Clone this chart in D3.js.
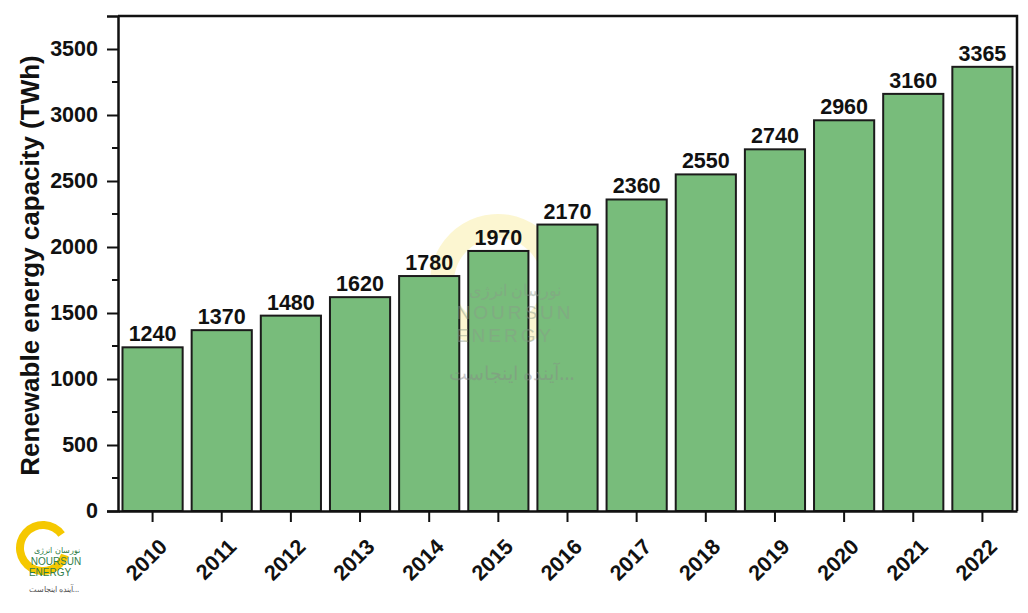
<!DOCTYPE html>
<html>
<head>
<meta charset="utf-8">
<script src="https://cdn.jsdelivr.net/npm/d3@7"></script>
<style>
  body { margin: 0; background: #fff; }
  svg { display: block; font-family: "Liberation Sans", Arial, sans-serif; }
</style>
</head>
<body>
<svg id="chart" width="1028" height="613"></svg>
<script>
// data
const years = ['2010', '2011', '2012', '2013', '2014', '2015', '2016', '2017', '2018', '2019', '2020', '2021', '2022'];
const capacity = [1240, 1370, 1480, 1620, 1780, 1970, 2170, 2360, 2550, 2740, 2960, 3160, 3365];
const yTicks = [0, 500, 1000, 1500, 2000, 2500, 3000, 3500];
const yMinorTicks = [250, 750, 1250, 1750, 2250, 2750, 3250];

const svgWidth = 1028;
const svgHeight = 613;
const margin = {top: 16, right: 11, bottom: 102, left: 118};
const plotW = svgWidth - margin.left - margin.right;
const plotH = svgHeight - margin.top - margin.bottom;

const svg = d3.select('#chart');

// watermark ring in the middle
svg.append('path')
  .attr('transform', 'translate(498,282)')
  .attr('d', d3.arc().innerRadius(44).outerRadius(68).startAngle(0.55 * Math.PI).endAngle(2.35 * Math.PI)())
  .style('fill', '#f7e67a')
  .style('opacity', 0.35);

const plot = svg.append('g')
  .attr('transform', 'translate(' + margin.left + ',' + margin.top + ')');

const x = d3.scaleBand()
  .domain(years)
  .range([0, plotW])
  .paddingInner(0.13)
  .paddingOuter(0.065);

const y = d3.scaleLinear()
  .domain([0, 3750])
  .range([plotH, 0]);

// bars
plot.selectAll('rect.bar')
  .data(years)
  .enter()
  .append('rect')
  .attr('class', 'bar')
  .attr('x', d => x(d))
  .attr('y', (d, i) => y(capacity[i]))
  .attr('width', x.bandwidth())
  .attr('height', (d, i) => plotH - y(capacity[i]))
  .style('fill', '#78bc7b')
  .style('stroke', '#1b1b1b')
  .style('stroke-width', 2);

// value labels
plot.selectAll('text.val')
  .data(years)
  .enter()
  .append('text')
  .attr('class', 'val')
  .attr('x', d => x(d) + x.bandwidth() / 2)
  .attr('y', (d, i) => y(capacity[i]) - 6)
  .attr('text-anchor', 'middle')
  .style('font-size', '21.5px')
  .style('font-weight', 'bold')
  .style('fill', '#111')
  .text((d, i) => capacity[i]);

// frame top + right
plot.append('path')
  .attr('d', 'M0,0H' + plotW + 'V' + plotH)
  .style('fill', 'none')
  .style('stroke', '#111')
  .style('stroke-width', 2.5);

// Y axis
const yAxis = d3.axisLeft(y).tickValues(yTicks).tickFormat(d3.format('d')).tickSize(11).tickPadding(9);
const gy = plot.append('g').call(yAxis);
gy.select('.domain').style('stroke', '#111').style('stroke-width', 2.5);
gy.selectAll('.tick line').style('stroke', '#111').style('stroke-width', 2);
gy.selectAll('.tick text')
  .style('font-size', '21.5px')
  .style('font-weight', 'bold')
  .style('fill', '#111')
  .style('font-family', '"Liberation Sans", Arial, sans-serif');

gy.selectAll('line.minor')
  .data(yMinorTicks)
  .enter()
  .append('line')
  .attr('class', 'minor')
  .attr('x1', -6).attr('x2', 0)
  .attr('y1', d => y(d)).attr('y2', d => y(d))
  .style('stroke', '#111')
  .style('stroke-width', 2);

// X axis
const xAxis = d3.axisBottom(x).tickSize(11).tickSizeOuter(0).tickPadding(0);
const gx = plot.append('g')
  .attr('transform', 'translate(0,' + plotH + ')')
  .call(xAxis);
gx.select('.domain').style('stroke', '#111').style('stroke-width', 2.5);
gx.selectAll('.tick line').style('stroke', '#111').style('stroke-width', 2);
gx.selectAll('.tick text')
  .attr('text-anchor', 'end')
  .attr('dy', 0)
  .attr('y', 0)
  .attr('transform', 'translate(16,37) rotate(-45)')
  .style('font-size', '21.5px')
  .style('font-weight', 'bold')
  .style('fill', '#111')
  .style('font-family', '"Liberation Sans", Arial, sans-serif');

// Y axis title
svg.append('text')
  .attr('transform', 'translate(39,' + (margin.top + plotH / 2 + 2) + ') rotate(-90)')
  .attr('text-anchor', 'middle')
  .style('font-size', '26px')
  .style('font-weight', 'bold')
  .style('fill', '#111')
  .text('Renewable energy capacity (TWh)');

// watermark text over the bars
const wmText = svg.append('g').style('fill', '#8a9a8a').attr('opacity', 0.45);
wmText.append('text').attr('x', 515).attr('y', 296).attr('text-anchor', 'middle')
  .style('font-size', '16px').style('font-family', '"Noto Sans", sans-serif').text('نورسان انرژی');
wmText.append('text').attr('x', 515).attr('y', 319).attr('text-anchor', 'middle')
  .style('font-size', '19px').style('letter-spacing', '3px').text('NOURSUN');
wmText.append('text').attr('x', 505).attr('y', 342).attr('text-anchor', 'middle')
  .style('font-size', '19px').style('letter-spacing', '3px').text('ENERGY');
wmText.append('text').attr('x', 512).attr('y', 380).attr('text-anchor', 'middle')
  .style('font-size', '19px').style('fill', '#888').style('font-family', '"Noto Sans", sans-serif')
  .text('آینده اینجاست...');

// logo bottom-left
const logo = svg.append('g');
logo.append('path')
  .attr('transform', 'translate(43,548)')
  .attr('d', d3.arc().innerRadius(19).outerRadius(27).startAngle(0.6 * Math.PI).endAngle(2.3 * Math.PI)())
  .style('fill', '#f5c800');
logo.append('text').attr('x', 57).attr('y', 553).attr('text-anchor', 'middle')
  .style('font-size', '8px').style('fill', '#2f7d4a').style('font-family', '"Noto Sans", sans-serif').text('نورسان انرژی');
logo.append('text').attr('x', 56).attr('y', 565).attr('text-anchor', 'middle')
  .style('font-size', '10px').style('fill', '#2f7d4a').text('NOURSUN');
logo.append('text').attr('x', 50).attr('y', 576).attr('text-anchor', 'middle')
  .style('font-size', '10px').style('fill', '#2f7d4a').text('ENERGY');
logo.append('text').attr('x', 54).attr('y', 592).attr('text-anchor', 'middle')
  .style('font-size', '8px').style('fill', '#555').style('font-family', '"Noto Sans", sans-serif').text('آینده اینجاست...');
</script>
</body>
</html>
